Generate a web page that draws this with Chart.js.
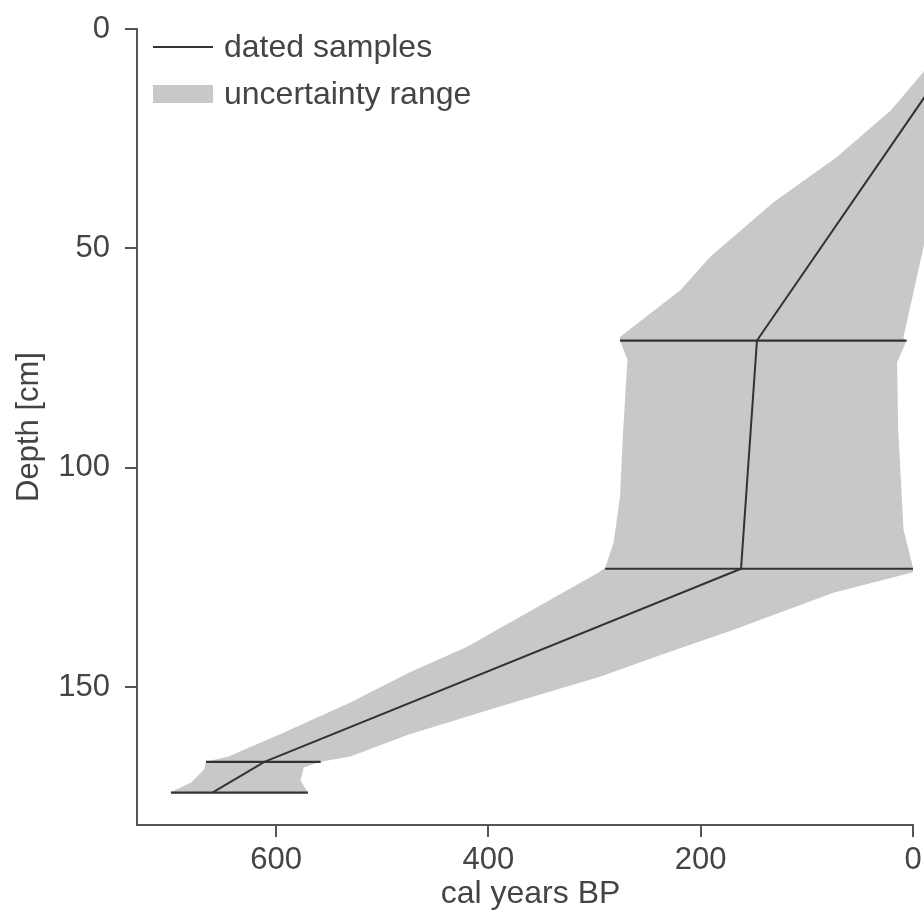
<!DOCTYPE html>
<html lang="en">
  <head>
    <meta charset="UTF-8" />
    <title>Age-depth model</title>
    <script src="https://cdn.jsdelivr.net/npm/chart.js@4.4.1/dist/chart.umd.min.js"></script>
    <style>
      body {
        margin: 0;
        background: #fff;
      }
      #wrap {
        width: 924px;
        height: 919px;
      }
    </style>
  </head>
  <body>
    <div id="wrap">
      <canvas id="chart" width="924" height="919"></canvas>
    </div>

    <script>
      // dated samples (median ages, cal years BP) by depth in cm
      const lineDepth = [0, 71, 123, 167, 174];
      const lineAge = [-55, 147, 162, 611, 660];

      // horizontal bars at each sample depth
      const sampleDepth = [71, 123, 167, 174];
      const sampleYoung = [6, 0, 558, 570];
      const sampleOld = [276, 290, 666, 699];

      // uncertainty range: older edge and younger edge, top to bottom
      const olderDepth = [0, 10, 18.6, 29.2, 39.6, 51.9, 59.5, 70.2, 71, 75.4, 91.3, 106.6, 117, 122.8, 124, 132.3, 140.8, 146.7, 153.5, 160.4, 165.8, 167, 168.8, 171.7, 174];
      const olderAge = [-46, -9, 21, 72, 132, 191, 219, 276, 276, 269, 273, 276, 282, 290, 297, 358, 420, 475, 530, 593, 645, 666, 668, 680, 700];
      const youngerDepth = [0, 49.6, 70.2, 71.5, 76, 91, 114, 122.8, 123.8, 128.5, 136.9, 142.1, 147.6, 154.4, 160.8, 165.8, 167, 168.3, 171.3, 174];
      const youngerAge = [-60, -10, 9, 7, 15, 14, 9, 0, 0, 75, 169, 231, 295, 389, 475, 530, 558, 574, 577, 570];

      const ageTicks = [0, 200, 400, 600];
      const depthTicks = [0, 50, 100, 150];

      const ink = "#333";
      const axisColor = "#555";
      const band = "#c8c8c8";

      Chart.defaults.font.family = '"Liberation Sans", Arial, sans-serif';
      Chart.defaults.color = "#444";

      // polygon: down the older edge, back up the younger edge
      let shape = [];
      olderDepth.forEach((d, i) => shape.push({ x: olderAge[i], y: d }));
      for (let i = youngerDepth.length - 1; i >= 0; i--) {
        shape.push({ x: youngerAge[i], y: youngerDepth[i] });
      }

      const datasets = [
        {
          label: "uncertainty range",
          data: shape,
          showLine: true,
          fill: "shape",
          backgroundColor: band,
          borderWidth: 0,
          pointRadius: 0,
          order: 3,
        },
        {
          label: "dated samples",
          data: lineDepth.map((d, i) => ({ x: lineAge[i], y: d })),
          showLine: true,
          borderColor: ink,
          borderWidth: 2,
          pointRadius: 0,
          order: 1,
        },
      ];

      sampleDepth.forEach((d, i) => {
        datasets.push({
          label: "sample " + d,
          data: [
            { x: sampleYoung[i], y: d },
            { x: sampleOld[i], y: d },
          ],
          showLine: true,
          borderColor: ink,
          borderWidth: 2.2,
          pointRadius: 0,
          order: 2,
        });
      });

      // x axis line only runs to 0 BP, legend sits inside the plot
      const extras = {
        id: "extras",
        afterDraw(chart) {
          const ctx = chart.ctx;
          const x = chart.scales.x;
          const area = chart.chartArea;
          ctx.save();
          ctx.strokeStyle = axisColor;
          ctx.lineWidth = 2;
          ctx.beginPath();
          ctx.moveTo(area.left - 1, area.bottom);
          ctx.lineTo(x.getPixelForValue(0) + 1, area.bottom);
          ctx.stroke();

          ctx.strokeStyle = ink;
          ctx.beginPath();
          ctx.moveTo(153, 47);
          ctx.lineTo(213, 47);
          ctx.stroke();
          ctx.fillStyle = band;
          ctx.fillRect(153, 85, 60, 18);

          ctx.fillStyle = "#444";
          ctx.font = '32px "Liberation Sans", Arial, sans-serif';
          ctx.textBaseline = "middle";
          ctx.fillText("dated samples", 224, 48);
          ctx.fillText("uncertainty range", 224, 95);
          ctx.restore();
        },
      };

      const chart = new Chart(document.getElementById("chart"), {
        type: "scatter",
        data: { datasets: datasets },
        options: {
          responsive: false,
          animation: false,
          layout: { padding: { top: 29, right: 0, bottom: 0, left: 0 } },
          elements: { line: { tension: 0 } },
          plugins: {
            legend: { display: false },
            tooltip: { enabled: false },
          },
          scales: {
            x: {
              type: "linear",
              reverse: true,
              min: -10.35,
              max: 731,
              afterBuildTicks: (s) => {
                s.ticks = ageTicks.map((v) => ({ value: v }));
              },
              afterFit: (s) => {
                s.height = 94;
                s.paddingLeft = 0;
                s.paddingRight = 0;
              },
              border: { display: false },
              grid: {
                drawOnChartArea: false,
                drawTicks: true,
                tickLength: 12,
                color: axisColor,
                lineWidth: 2,
              },
              ticks: { font: { size: 31 }, padding: 5, maxRotation: 0 },
              title: {
                display: true,
                text: "cal years BP",
                font: { size: 32 },
                padding: { top: 0, bottom: 6 },
              },
            },
            y: {
              type: "linear",
              reverse: true,
              min: 0,
              max: 181.4,
              afterBuildTicks: (s) => {
                s.ticks = depthTicks.map((v) => ({ value: v }));
              },
              afterFit: (s) => {
                s.width = 137;
                s.paddingTop = 0;
                s.paddingBottom = 0;
              },
              border: { display: true, color: axisColor, width: 2 },
              grid: {
                drawOnChartArea: false,
                drawTicks: true,
                tickLength: 12,
                color: axisColor,
                lineWidth: 2,
              },
              ticks: { font: { size: 31 }, padding: 15 },
              title: {
                display: true,
                text: "Depth [cm]",
                font: { size: 31 },
                padding: { top: 11, bottom: 0 },
              },
            },
          },
        },
        plugins: [extras],
      });
    </script>
  </body>
</html>
